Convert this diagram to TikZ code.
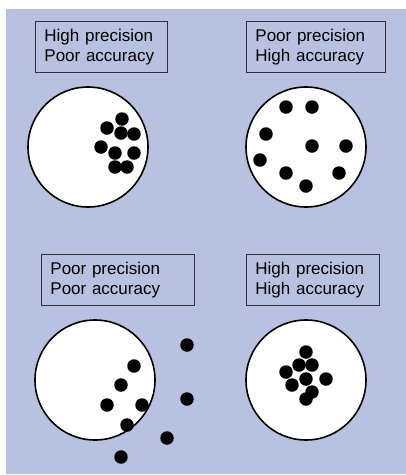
\documentclass[tikz,border=0pt]{standalone}
\usepackage{fontspec}
\setmainfont{Liberation Sans}
\definecolor{bgblue}{RGB}{184,193,224}
\definecolor{boxline}{RGB}{50,50,60}
\begin{document}
\begin{tikzpicture}[x=1pt,y=-1pt,
  lbl/.style={draw=boxline,line width=0.9pt,fill=bgblue,minimum height=51pt,inner xsep=9pt,inner ysep=0pt,
    align=left,font=\fontsize{17}{20}\selectfont,anchor=north west},
  target/.style={circle,draw=black,line width=1.6pt,fill=white,minimum size=120pt,inner sep=0pt},
  shot/.style={circle,fill=black,minimum size=13.5pt,inner sep=0pt}]
\useasboundingbox (0,0) rectangle (406,475);
\fill[bgblue] (6,9) rectangle (406,474);
% panel 1
\node[lbl,text width=114pt] (b1) at (35,21) {High precision\\Poor accuracy};
\node[target] (c1) at (88,147) {};
\foreach \i/\p in {1/{(107,128)},2/{(122,119)},3/{(121,133)},4/{(134,134)},5/{(101,147)},6/{(115,153)},7/{(134,153)},8/{(115,167)},9/{(127,167)}}
  \node[shot] (d1\i) at \p {};
% panel 2
\node[lbl,text width=121pt] (b2) at (246,21) {Poor precision\\High accuracy};
\node[target] (c2) at (306,147) {};
\foreach \i/\p in {1/{(286,107)},2/{(312,107)},3/{(266,134)},4/{(312,146)},5/{(346,146)},6/{(260,160)},7/{(286,173)},8/{(339,173)},9/{(306,186)}}
  \node[shot] (d2\i) at \p {};
% panel 3
\node[lbl,text width=135pt] (b3) at (41,254) {Poor precision\\Poor accuracy};
\node[target] (c3) at (95,380) {};
\foreach \i/\p in {1/{(187,345)},2/{(134,366)},3/{(121,385)},4/{(107,405)},5/{(142,405)},6/{(187,399)},7/{(127,425)},8/{(167,438)},9/{(121,457)}}
  \node[shot] (d3\i) at \p {};
% panel 4
\node[lbl,text width=115pt] (b4) at (246,254) {High precision\\High accuracy};
\node[target] (c4) at (306,380) {};
\foreach \i/\p in {1/{(306,352)},2/{(299,365)},3/{(312,365)},4/{(286,372)},5/{(306,379)},6/{(326,379)},7/{(292,385)},8/{(312,392)},9/{(306,399)}}
  \node[shot] (d4\i) at \p {};
\end{tikzpicture}
\end{document}
